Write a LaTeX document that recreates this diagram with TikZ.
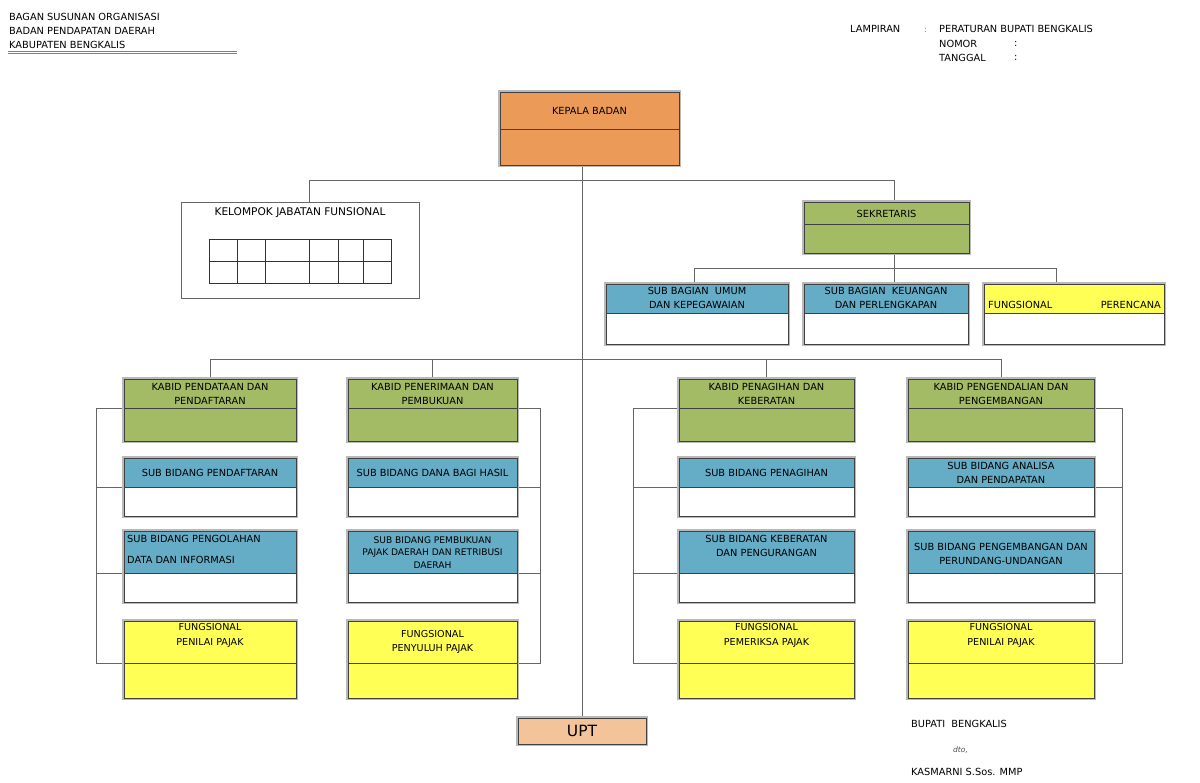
\documentclass[tikz,border=0pt]{standalone}
\usepackage{fontspec}
\setmainfont{DejaVu Sans}
\usetikzlibrary{backgrounds}
\definecolor{cOrange}{HTML}{EC9A58}
\definecolor{cGreen}{HTML}{A4BB66}
\definecolor{cBlue}{HTML}{65ACC7}
\definecolor{cYellow}{HTML}{FFFF55}
\definecolor{cUpt}{HTML}{F3C49A}
\tikzset{
  frame/.style={draw=gray!55, line width=1.8pt, inner sep=0pt, outer sep=0pt},
  headfill/.style={inner sep=0pt, outer sep=0pt},
  innerline/.style={draw=black!75, line width=0.6pt},
  conn/.style={draw=black!60, line width=0.8pt},
  lbl/.style={font=\fontsize{9.8}{14}\selectfont, align=center, inner sep=0pt},
  hdr/.style={font=\fontsize{9.8}{14}\selectfont, anchor=west, inner sep=0pt},
}
\newcommand\obox[8]{%
  \node[frame, fill=#8, anchor=north west, minimum width={#4pt-#2pt}, minimum height={#5pt-#3pt}] (#1) at (#2,#3) {};
  \node[headfill, fill=#7, anchor=north west, minimum width={#4pt-#2pt-2pt}, minimum height={#6pt-#3pt-1pt}] (#1h) at (#2+1,#3+1) {};
  \draw[innerline] ([shift={(1,1)}]#1.north west) rectangle ([shift={(-1,-1)}]#1.south east);
  \draw[innerline] (#1h.south west) -- (#1h.south east);
}
\begin{document}
\begin{tikzpicture}[x=1pt,y=-1pt]
\useasboundingbox (0,0) rectangle (1200,783);

% header left
\node[hdr] (h1) at (9,17) {BAGAN SUSUNAN ORGANISASI};
\node[hdr] (h2) at (9,31) {BADAN PENDAPATAN DAERAH};
\node[hdr] (h3) at (9,45) {KABUPATEN BENGKALIS};
\coordinate (ul1) at (8,51.2);
\coordinate (ul2) at (237,51.2);
\draw[gray, line width=0.7pt] (ul1) -- (ul2);
\draw[gray, line width=0.7pt] ([yshift=-2.3pt]ul1) -- ([yshift=-2.3pt]ul2);

% header right
\node[hdr] (lamp) at (850,29) {LAMPIRAN};
\node[hdr, text=black!50, font=\fontsize{8}{10}\selectfont] (lampc) at (924,30) {:};
\node[hdr] (perbup) at (939,29) {PERATURAN BUPATI BENGKALIS};
\node[hdr] (nomor) at (939,44) {NOMOR};
\node[hdr] (nomorc) at (1014,44) {:};
\node[hdr] (tgl) at (939,58) {TANGGAL};
\node[hdr] (tglc) at (1014,58) {:};

% kepala
\obox{kepala}{499}{91}{680}{166}{129}{cOrange}{cOrange}
\node[lbl] (tkepala) at (589.5,111) {KEPALA BADAN};

% kelompok jabatan fungsional
\node[draw=black!60, line width=0.7pt, anchor=north west, minimum width=238pt, minimum height=96pt, inner sep=0pt] (kjf) at (181,202) {};
\node[lbl, font=\fontsize{10.6}{14}\selectfont] (tkjf) at (300,213) {KELOMPOK JABATAN FUNSIONAL};
\node[draw=black!80, line width=0.6pt, anchor=north west, minimum width=182pt, minimum height=44pt, inner sep=0pt] (tab) at (209,239) {};
\draw[black!80, line width=0.6pt] (tab.west) -- (tab.east);
\foreach \cx in {237,265,309,338,363}{
  \draw[black!80, line width=0.6pt] (tab.north -| \cx,0) -- (tab.south -| \cx,0);
}

% sekretaris
\obox{sek}{803}{201}{970}{254}{224}{cGreen}{cGreen}
\node[lbl] (tsek) at (886.5,214) {SEKRETARIS};
\obox{sb1}{605}{283}{789}{345}{313}{cBlue}{white}
\node[lbl] (tsb1) at (697,298) {SUB BAGIAN~ UMUM\\DAN KEPEGAWAIAN};
\obox{sb2}{803}{283}{969}{345}{313}{cBlue}{white}
\node[lbl] (tsb2) at (886,298) {SUB BAGIAN~ KEUANGAN\\DAN PERLENGKAPAN};
\obox{fp}{983}{283}{1165}{345}{313}{cYellow}{white}
\node[hdr] (tfp1) at (988,305) {FUNGSIONAL};
\node[hdr, anchor=east] (tfp2) at (1161,305) {PERENCANA};

% kabid row
\obox{k1}{123}{378}{297}{442}{408}{cGreen}{cGreen}
\obox{k2}{347}{378}{518}{442}{408}{cGreen}{cGreen}
\obox{k3}{678}{378}{855}{442}{408}{cGreen}{cGreen}
\obox{k4}{907}{378}{1095}{442}{408}{cGreen}{cGreen}
\node[lbl] (tk1) at (210,394) {KABID PENDATAAN DAN\\PENDAFTARAN};
\node[lbl] (tk2) at (432.5,394) {KABID PENERIMAAN DAN\\PEMBUKUAN};
\node[lbl] (tk3) at (766.5,394) {KABID PENAGIHAN DAN\\KEBERATAN};
\node[lbl] (tk4) at (1001,394) {KABID PENGENDALIAN DAN\\PENGEMBANGAN};

% sub bidang row 1
\obox{s11}{123}{457}{297}{517}{487}{cBlue}{white}
\obox{s21}{347}{457}{518}{517}{487}{cBlue}{white}
\obox{s31}{678}{457}{855}{517}{487}{cBlue}{white}
\obox{s41}{907}{457}{1095}{517}{487}{cBlue}{white}
\node[lbl] (ts11) at (210,473) {SUB BIDANG PENDAFTARAN};
\node[lbl] (ts21) at (432.5,473) {SUB BIDANG DANA BAGI HASIL};
\node[lbl] (ts31) at (766.5,473) {SUB BIDANG PENAGIHAN};
\node[lbl] (ts41) at (1001,473) {SUB BIDANG ANALISA\\DAN PENDAPATAN};

% sub bidang row 2
\obox{s12}{123}{530}{297}{603}{573}{cBlue}{white}
\obox{s22}{347}{530}{518}{603}{573}{cBlue}{white}
\obox{s32}{678}{530}{855}{603}{573}{cBlue}{white}
\obox{s42}{907}{530}{1095}{603}{573}{cBlue}{white}
\node[lbl, align=left, anchor=west, font=\fontsize{9.8}{21}\selectfont] (ts12) at (127,549.5) {SUB BIDANG PENGOLAHAN\\DATA DAN INFORMASI};
\node[lbl, font=\fontsize{9.1}{12.5}\selectfont] (ts22) at (432.5,552.5) {SUB BIDANG PEMBUKUAN\\PAJAK DAERAH DAN RETRIBUSI\\DAERAH};
\node[lbl] (ts32) at (766.5,545.5) {SUB BIDANG KEBERATAN\\DAN PENGURANGAN};
\node[lbl] (ts42) at (1001,553.5) {SUB BIDANG PENGEMBANGAN DAN\\PERUNDANG-UNDANGAN};

% fungsional row
\obox{f1}{123}{620}{297}{699}{663}{cYellow}{cYellow}
\obox{f2}{347}{620}{518}{699}{663}{cYellow}{cYellow}
\obox{f3}{678}{620}{855}{699}{663}{cYellow}{cYellow}
\obox{f4}{907}{620}{1095}{699}{663}{cYellow}{cYellow}
\node[lbl, font=\fontsize{9.6}{14.5}\selectfont] (tf1) at (210,635.5) {FUNGSIONAL\\PENILAI PAJAK};
\node[lbl, font=\fontsize{9.6}{14.5}\selectfont] (tf2) at (432.5,642) {FUNGSIONAL\\PENYULUH PAJAK};
\node[lbl, font=\fontsize{9.6}{14.5}\selectfont] (tf3) at (766.5,635.5) {FUNGSIONAL\\PEMERIKSA PAJAK};
\node[lbl, font=\fontsize{9.6}{14.5}\selectfont] (tf4) at (1001,635.5) {FUNGSIONAL\\PENILAI PAJAK};

% UPT
\node[frame, fill=cUpt, anchor=north west, minimum width=130pt, minimum height=28pt] (upt) at (517,717) {};
\draw[innerline] ([shift={(1,1)}]upt.north west) rectangle ([shift={(-1,-1)}]upt.south east);
\node[lbl, font=\fontsize{15.5}{18}\selectfont] (tupt) at (upt.center) {UPT};

% signature
\node[hdr] (sig1) at (911,724) {BUPATI~ BENGKALIS};
\node[hdr, font=\fontsize{7.5}{9}\selectfont\itshape, text=black!70] (sig2) at (953,750) {dto,};
\node[hdr] (sig3) at (911,772) {KASMARNI S.Sos. MMP};

% connectors
\begin{pgfonlayer}{background}
\coordinate (j1) at (309,180);
\coordinate (j2) at (894,180);
\coordinate (j3) at (694,268);
\coordinate (j4) at (1056,268);
\coordinate (l2) at (0,359);
\coordinate (bx1) at (96,0);
\coordinate (bx2) at (540,0);
\coordinate (bx3) at (633,0);
\coordinate (bx4) at (1122,0);
\draw[conn] (kepala.south -| upt.north) -- (upt.north);
\draw[conn] (kjf.north -| j1) -- (j1) -- (j2) -- (sek.north -| j2);
\draw[conn] (sek.south -| j2) -- (sb2.north -| j2);
\draw[conn] (sb1.north -| j3) -- (j3) -- (j4) -- (fp.north -| j4);
\draw[conn] (k1.north) -- (k1.north |- l2) -- (k4.north |- l2) -- (k4.north);
\draw[conn] (k2.north) -- (k2.north |- l2);
\draw[conn] (k3.north) -- (k3.north |- l2);
% brackets
\draw[conn] (k1h.south west) -- (k1h.south west -| bx1) -- (f1h.south west -| bx1) -- (f1h.south west);
\draw[conn] (s11h.south west) -- (s11h.south west -| bx1);
\draw[conn] (s12h.south west) -- (s12h.south west -| bx1);
\draw[conn] (k2h.south east) -- (k2h.south east -| bx2) -- (f2h.south east -| bx2) -- (f2h.south east);
\draw[conn] (s21h.south east) -- (s21h.south east -| bx2);
\draw[conn] (s22h.south east) -- (s22h.south east -| bx2);
\draw[conn] (k3h.south west) -- (k3h.south west -| bx3) -- (f3h.south west -| bx3) -- (f3h.south west);
\draw[conn] (s31h.south west) -- (s31h.south west -| bx3);
\draw[conn] (s32h.south west) -- (s32h.south west -| bx3);
\draw[conn] (k4h.south east) -- (k4h.south east -| bx4) -- (f4h.south east -| bx4) -- (f4h.south east);
\draw[conn] (s41h.south east) -- (s41h.south east -| bx4);
\draw[conn] (s42h.south east) -- (s42h.south east -| bx4);
\end{pgfonlayer}
\end{tikzpicture}
\end{document}
